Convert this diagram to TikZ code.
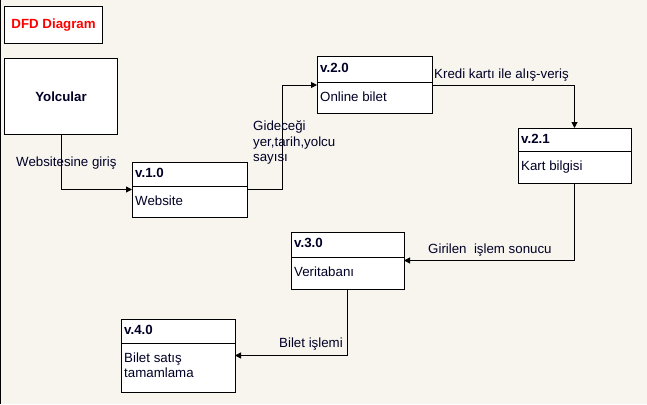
\documentclass[tikz,border=0pt]{standalone}
\usepackage{fontspec}
\setmainfont{Liberation Sans}
\usetikzlibrary{arrows.meta}
\definecolor{bgc}{HTML}{F8F5EE}
\definecolor{dfdred}{HTML}{FF0000}
\newcommand\procbox[8]{% name, x, y, w, h, divider offset, title, body
  \node[pbox, minimum width=#4pt, minimum height=#5pt] (#1) at (#2,#3) {};
  \draw[thin line] ([yshift=-#6pt]#1.north west) -- ([yshift=-#6pt]#1.north east);
  \node[ptext, anchor=base west, font=\bfseries\fontsize{13.3}{15.5}\selectfont] (#1t) at ([xshift=3pt,yshift=-15.5pt]#1.north west) {#7};
  \node[ptext, anchor=north west, align=left] (#1b) at ([xshift=3pt,yshift=-#6pt-9.4pt]#1.north west) {#8};
}
\begin{document}
\begin{tikzpicture}[x=1pt,y=-1pt,
  font=\fontsize{13.3}{15.5}\selectfont,
  thin line/.style={line width=1pt, draw=black},
  pbox/.style={draw=black, line width=1pt, fill=white, anchor=north west, inner sep=0pt, outer sep=0pt},
  ptext/.style={inner sep=0pt, text=black!85!blue},
  lbl/.style={anchor=west, inner sep=0pt, text=black!85!blue, text height=9.5pt, text depth=2.8pt},
  flow/.style={line width=1pt, draw=black, -{Triangle[length=6pt,width=6pt]}}]
\useasboundingbox (0,0) rectangle (647,404);
\fill[bgc] (0,0) rectangle (647,404);
\draw[line width=1.2pt] (0.6,0) -- (0.6,404);
% title
\node[draw=black, line width=1.2pt, fill=white, anchor=north west, inner sep=0pt,
  minimum width=98pt, minimum height=37pt, text=dfdred, font=\bfseries\fontsize{13.3}{15.5}\selectfont] (title) at (4,6) {DFD Diagram};
% external entity
\node[draw=black, line width=1pt, fill=white, anchor=north west, inner sep=0pt,
  minimum width=113pt, minimum height=76pt, font=\bfseries\fontsize{13.3}{15.5}\selectfont, text=black!85!blue] (yol) at (4,58) {Yolcular};
% processes
\procbox{v10}{132}{162}{115}{55}{24}{v.1.0}{Website}
\procbox{v20}{317}{57}{115}{56}{25}{v.2.0}{Online bilet}
\procbox{v21}{518}{128}{113}{55}{23}{v.2.1}{Kart bilgisi}
\procbox{v30}{291}{232}{113}{57}{25}{v.3.0}{Veritabanı}
\procbox{v40}{121}{319}{114}{73}{24}{v.4.0}{Bilet satış\\tamamlama}
% connectors
\coordinate (m1) at (282,0);
\draw[flow] (yol.south) |- (v10.west);
\draw[flow] (v10.east) -- (v10.east -| m1) -- (m1 |- v20.west) -- (v20.west);
\draw[flow] (v20.east) -| (v21.north);
\draw[flow] (v21.south) |- (v30.east);
\draw[flow] (v30.south) |- (v40.east);
% labels
\node[lbl] (l1) at (16,163) {Websitesine giriş};
\node[lbl, align=left, text height=, text depth=] (l2) at (253,142.5) {Gideceği\\yer,tarih,yolcu\\sayısı};
\node[lbl] (l3) at (434,75) {Kredi kartı ile alış-veriş};
\node[lbl] (l4) at (428,250) {Girilen\ \ işlem sonucu};
\node[lbl] (l5) at (279,344) {Bilet işlemi};
\end{tikzpicture}
\end{document}
